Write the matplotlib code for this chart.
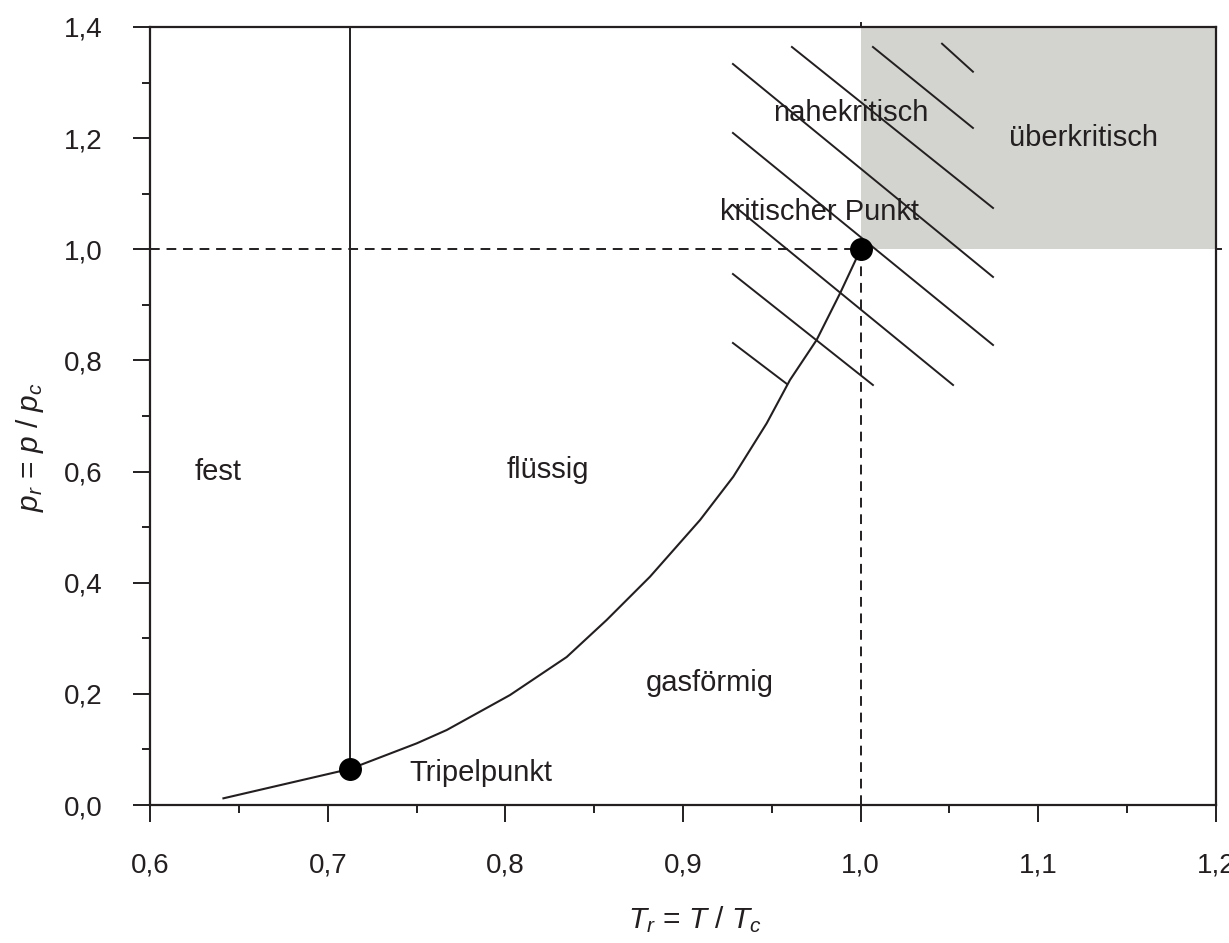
import matplotlib
matplotlib.use("Agg")
import matplotlib.pyplot as plt
from matplotlib.patches import Rectangle
from matplotlib.ticker import MultipleLocator, FuncFormatter

plt.rcParams['font.family'] = ['Liberation Sans', 'DejaVu Sans']
plt.rcParams['mathtext.fontset'] = 'custom'
plt.rcParams['mathtext.rm'] = 'Liberation Sans'
plt.rcParams['mathtext.it'] = 'Liberation Sans:italic'

# Vapour-pressure curve (reduced coordinates), triple point -> critical point
curve_T = [0.6413, 0.7126, 0.7501, 0.7670, 0.8026, 0.8345, 0.8570, 0.8814,
           0.9096, 0.9283, 0.9471, 0.9602, 0.9752, 0.9884, 1.0]
curve_p = [0.0121, 0.0650, 0.1110, 0.1350, 0.1979, 0.2663, 0.3329, 0.4108,
           0.5129, 0.5908, 0.6869, 0.7648, 0.8368, 0.9208, 1.0]

triple_point = (0.7126, 0.065)
critical_point = (1.0, 1.0)

# Hatching segments of the near-critical zone: (T0, p0, T1, p1)
hatch_T0 = [1.0458, 1.0069, 0.9613, 0.9281, 0.9281, 0.9281, 0.9281, 0.9281]
hatch_p0 = [1.3699, 1.3640, 1.3640, 1.3334, 1.2093, 1.0797, 0.9555, 0.8314]
hatch_T1 = [1.0632, 1.0632, 1.0745, 1.0745, 1.0745, 1.0520, 1.0069, 0.9585]
hatch_p1 = [1.3195, 1.2183, 1.0743, 0.9502, 0.8278, 0.7558, 0.7558, 0.7576]

region_labels = ["fest", "flüssig", "gasförmig", "Tripelpunkt",
                 "kritischer Punkt", "nahekritisch", "überkritisch"]
region_T = [0.6383, 0.824, 0.915, 0.786, 0.977, 0.9946, 1.1257]
region_p = [0.599, 0.603, 0.220, 0.058, 1.067, 1.245, 1.200]

ink = "#231f20"

fig = plt.figure(figsize=(12.29, 9.43), dpi=100)
ax = fig.add_axes([0.1221, 0.1463, 0.9894 - 0.1221, 0.9714 - 0.1463])
ax.set_xlim(0.6, 1.2)
ax.set_ylim(0.0, 1.4)

# supercritical region
ax.add_patch(Rectangle((critical_point[0], critical_point[1]),
                       1.2 - critical_point[0], 1.4 - critical_point[1],
                       facecolor="#d3d4cf", edgecolor="none", zorder=0))

# dashed guides to the critical point
ax.plot([0.6, critical_point[0]], [critical_point[1]] * 2, color=ink,
        lw=1.4, ls=(0, (5, 3.5)), zorder=2)
ax.plot([critical_point[0]] * 2, [0.0, critical_point[1]], color=ink,
        lw=1.4, ls=(0, (5, 3.5)), zorder=2)

# hatching
for t0, p0, t1, p1 in zip(hatch_T0, hatch_p0, hatch_T1, hatch_p1):
    ax.plot([t0, t1], [p0, p1], color=ink, lw=1.4, zorder=3)

# melting line and vapour-pressure curve
ax.plot([triple_point[0]] * 2, [triple_point[1], 1.4], color=ink, lw=1.4, zorder=3)
ax.plot(curve_T, curve_p, color=ink, lw=1.5, zorder=3)

# triple and critical points
ax.plot([triple_point[0], critical_point[0]], [triple_point[1], critical_point[1]],
        ls="none", marker="o", ms=15.5, color="black", zorder=5)

for lab, t, p in zip(region_labels, region_T, region_p):
    ax.text(t, p, lab, ha="center", va="center", fontsize=21, color=ink, zorder=4)

# small marks where the dashed guides meet the frame
ax.plot([1.0, 1.0], [1.4, 1.408], color=ink, lw=1.4, clip_on=False, zorder=6)
ax.plot([1.2, 1.203], [1.0, 1.0], color=ink, lw=1.4, clip_on=False, zorder=6)

# axes styling
for s in ax.spines.values():
    s.set_linewidth(1.6)
    s.set_color(ink)
ax.xaxis.set_major_locator(MultipleLocator(0.1))
ax.xaxis.set_minor_locator(MultipleLocator(0.05))
ax.yaxis.set_major_locator(MultipleLocator(0.2))
ax.yaxis.set_minor_locator(MultipleLocator(0.1))
fmt = FuncFormatter(lambda v, pos: f"{v:.1f}".replace(".", ","))
ax.xaxis.set_major_formatter(fmt)
ax.yaxis.set_major_formatter(fmt)
ax.tick_params(which="major", direction="out", length=12, width=1.4,
               color=ink, labelsize=20, labelcolor=ink)
ax.tick_params(which="minor", direction="out", length=6, width=1.4, color=ink)
ax.tick_params(axis="x", which="major", pad=22)
ax.tick_params(axis="y", which="major", pad=22)

ax.set_xlabel(r"$T_r$ = $T$ / $T_c$", fontsize=21.5, color=ink)
ax.set_ylabel(r"$p_r$ = $p$ / $p_c$", fontsize=21.5, color=ink)
ax.xaxis.set_label_coords(0.511, -0.128)
ax.yaxis.set_label_coords(-0.098, 0.46)

fig.savefig("out.png", dpi=100)
